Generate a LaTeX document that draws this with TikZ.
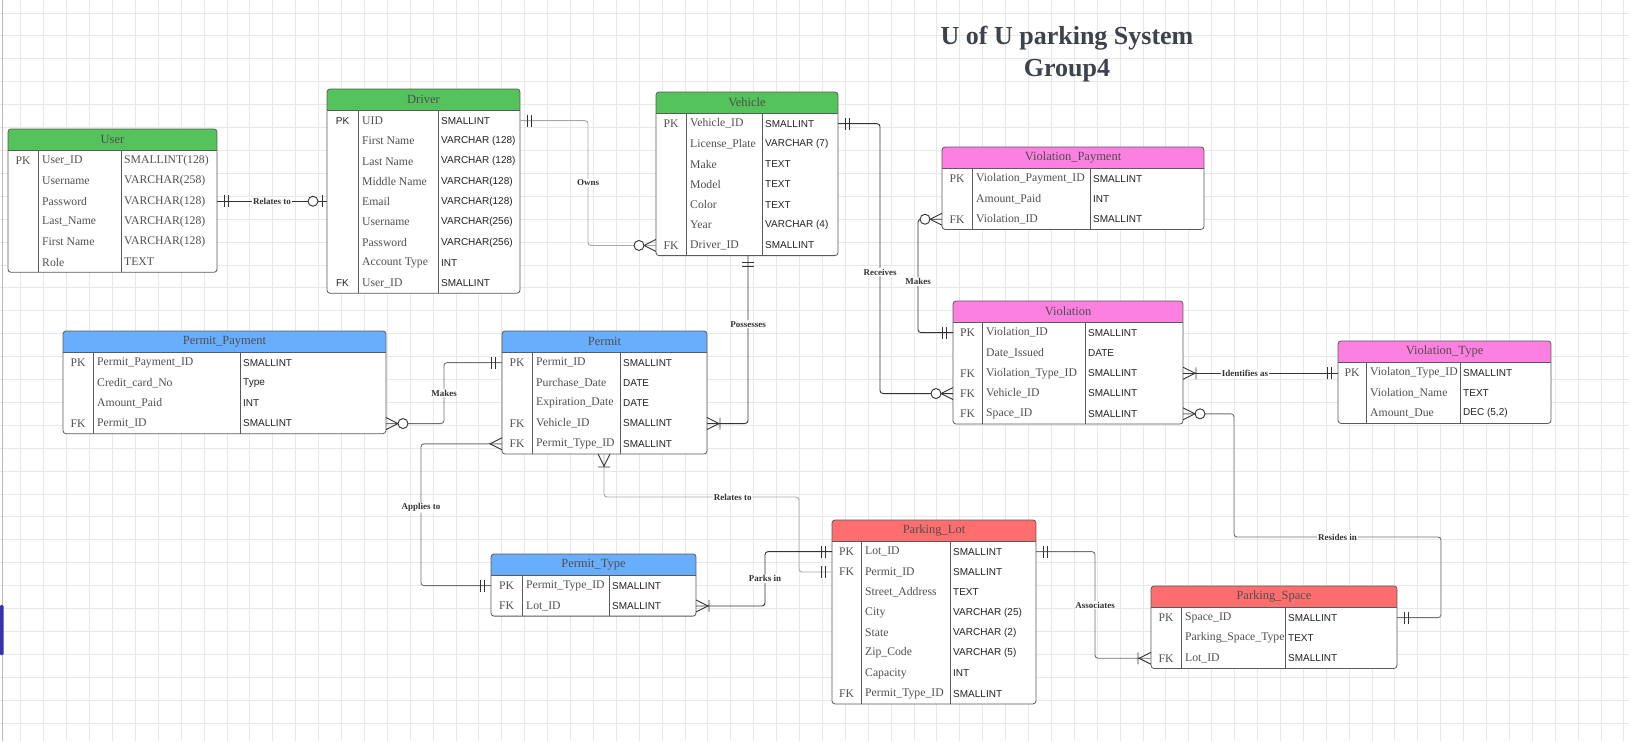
\documentclass[tikz,border=0pt]{standalone}
\usepackage{fontspec}
\setmainfont{Liberation Serif}
\newfontfamily\ersans{Liberation Sans}
\definecolor{grn}{HTML}{55C35B}
\definecolor{blu}{HTML}{69AEFC}
\definecolor{mag}{HTML}{FB80E0}
\definecolor{rd}{HTML}{FF6E6E}
\definecolor{bord}{HTML}{5A5A5A}
\definecolor{gridc}{HTML}{E8E8E8}
\definecolor{txg}{HTML}{505050}
\definecolor{txd}{HTML}{222222}
\definecolor{lnk}{HTML}{333333}
\definecolor{lng}{HTML}{A8A8A8}
\definecolor{lnm}{HTML}{707070}
\definecolor{ttl}{HTML}{3D434D}
\tikzset{
  keyt/.style={font=\fontsize{11.7}{14}\selectfont, text=txg, inner sep=0pt},
  fldt/.style={font=\fontsize{11.7}{14}\selectfont, text=txg, inner sep=0pt, anchor=west},
  typt/.style={font=\ersans\fontsize{10}{12}\selectfont, text=txd, inner sep=0pt, anchor=west},
  hdrt/.style={font=\fontsize{12.5}{14}\selectfont, text=txd!80, inner sep=0pt},
  lbl/.style={font=\bfseries\fontsize{9}{10}\selectfont, text=lnk, fill=white, inner sep=1pt},
  cblk/.style={draw=lnk, line width=0.9pt, rounded corners=3pt},
  cgry/.style={draw=lng, line width=0.9pt, rounded corners=3pt},
  cmid/.style={draw=lnm, line width=0.9pt, rounded corners=3pt},
  mk/.style={draw=lnk, line width=0.9pt},
  pics/erone/.style={code={\draw[mk] (7,-6)--(7,6) (11,-6)--(11,6);}},
  pics/erzone/.style={code={\draw[mk] (5,-6)--(5,6); \draw[mk, fill=white] (14,0) circle (5);}},
  pics/ermany/.style={code={\draw[mk] (0,-6)--(12,0)--(0,6);}},
  pics/eromany/.style={code={\draw[mk] (0,-6)--(12,0)--(0,6) (13,-6)--(13,6);}},
  pics/erzmany/.style={code={\draw[mk] (0,-6)--(12,0)--(0,6); \draw[mk, fill=white] (17,0) circle (5);}},
}
% #1 name, #2 left, #3 right, #4 top, #5 div1, #6 div2, #7 colour, #8 title, #9 rows
\newcommand\ertbl[9]{%
  \pgfmathsetmacro\erhb{#4+21.5}%
  \foreach \ka/\fa/\ta [count=\ri] in {#9}{\xdef\ernrows{\ri}}%
  \pgfmathsetmacro\erbot{\erhb+\ernrows*20.3}%
  \begin{scope}
    \clip[rounded corners=3pt] (#2,#4) rectangle (#3,\erbot);
    \fill[white] (#2,#4) rectangle (#3,\erbot);
    \fill[#7] (#2,#4) rectangle (#3,\erhb);
  \end{scope}
  \draw[bord, line width=0.8pt] (#2,\erhb) -- (#3,\erhb) (#5,\erhb) -- (#5,\erbot) (#6,\erhb) -- (#6,\erbot);
  \draw[bord, line width=0.8pt, rounded corners=3pt] (#2,#4) rectangle (#3,\erbot);
  \node[hdrt] (#1) at ({(#2+#3)/2},{#4+10.75}) {#8};
  \coordinate (#1-S) at (#2,\erbot);
  \foreach \ka/\fa/\ta [count=\ri] in {#9}{%
    \pgfmathsetmacro\ery{\erhb+(\ri-0.5)*20.3}%
    \coordinate (#1-L\ri) at (#2,\ery);
    \coordinate (#1-R\ri) at (#3,\ery);
    \node[keyt] (#1-k\ri) at ({(#2+#5)/2},\ery) {\ka};
    \node[fldt] (#1-f\ri) at ({#5+4},\ery) {\fa};
    \node[typt] (#1-t\ri) at ({#6+3},\ery) {\ta};
  }%
}
\begin{document}
\begin{tikzpicture}[x=1pt,y=-1pt]
\useasboundingbox (0,0) rectangle (1629,741);
\fill[white] (0,0) rectangle (1629,741);
% grid
\foreach \gx in {0,...,70}{\draw[gridc, line width=0.6pt] ({20.7+22.9*\gx},0) -- ++(0,741);}
\foreach \gy in {0,...,32}{\draw[gridc, line width=0.6pt] (0,{12.9+22.9*\gy}) -- ++(1629,0);}
\draw[gridc!80!black, line width=0.6pt] (2.5,0) -- (2.5,741);
\fill[blue!60!black!80!white, rounded corners=1pt] (0,605) rectangle (3.5,655);
% title
\node[font=\bfseries\fontsize{26}{32}\selectfont, text=ttl, align=center] (title) at (1067,54) {U of U parking System\\Group4};

% tables
\begin{scope}[typt/.style={font=\fontsize{11.7}{14}\selectfont, text=txg, inner sep=0pt, anchor=west}]
\ertbl{user}{8}{217}{129}{38}{121}{grn}{User}{PK/User\_ID/SMALLINT(128), {}/Username/VARCHAR(258), {}/Password/VARCHAR(128), {}/Last\_Name/VARCHAR(128), {}/First Name/VARCHAR(128), {}/Role/TEXT}
\end{scope}
\begin{scope}[keyt/.style={font=\ersans\fontsize{10}{12}\selectfont, text=txd, inner sep=0pt}]
\ertbl{driver}{327}{520}{89}{358}{438}{grn}{Driver}{PK/UID/SMALLINT, {}/First Name/VARCHAR (128), {}/Last Name/VARCHAR (128), {}/Middle Name/VARCHAR(128), {}/Email/VARCHAR(128), {}/Username/VARCHAR(256), {}/Password/VARCHAR(256), {}/Account Type/INT, FK/User\_ID/SMALLINT}
\end{scope}
\ertbl{vehicle}{656}{838}{92}{686}{762}{grn}{Vehicle}{PK/Vehicle\_ID/SMALLINT, {}/License\_Plate/VARCHAR (7), {}/Make/TEXT, {}/Model/TEXT, {}/Color/TEXT, {}/Year/VARCHAR (4), FK/Driver\_ID/SMALLINT}
\ertbl{vpay}{942}{1204}{147}{972}{1090}{mag}{Violation\_Payment}{PK/Violation\_Payment\_ID/SMALLINT, {}/Amount\_Paid/INT, FK/Violation\_ID/SMALLINT}
\ertbl{violation}{953}{1183}{301}{982}{1085}{mag}{Violation}{PK/Violation\_ID/SMALLINT, {}/Date\_Issued/DATE, FK/Violation\_Type\_ID/SMALLINT, FK/Vehicle\_ID/SMALLINT, FK/Space\_ID/SMALLINT}
\ertbl{vtype}{1338}{1551}{341}{1366}{1460}{mag}{Violation\_Type}{PK/Violaton\_Type\_ID/SMALLINT, {}/Violation\_Name/TEXT, {}/Amount\_Due/{DEC (5,2)}}
\ertbl{ppay}{63}{386}{331}{93}{240}{blu}{Permit\_Payment}{PK/Permit\_Payment\_ID/SMALLINT, {}/Credit\_card\_No/Type, {}/Amount\_Paid/INT, FK/Permit\_ID/SMALLINT}
\ertbl{permit}{502}{707}{331}{532}{620}{blu}{Permit}{PK/Permit\_ID/SMALLINT, {}/Purchase\_Date/DATE, {}/Expiration\_Date/DATE, FK/Vehicle\_ID/SMALLINT, FK/Permit\_Type\_ID/SMALLINT}
\ertbl{ptype}{491}{696}{554}{522}{609}{blu}{Permit\_Type}{PK/Permit\_Type\_ID/SMALLINT, FK/Lot\_ID/SMALLINT}
\ertbl{lot}{832}{1036}{520}{861}{950}{rd}{Parking\_Lot}{PK/Lot\_ID/SMALLINT, FK/Permit\_ID/SMALLINT, {}/Street\_Address/TEXT, {}/City/VARCHAR (25), {}/State/VARCHAR (2), {}/Zip\_Code/VARCHAR (5), {}/Capacity/INT, FK/Permit\_Type\_ID/SMALLINT}
\ertbl{pspace}{1151}{1397}{586}{1181}{1285}{rd}{Parking\_Space}{PK/Space\_ID/SMALLINT, {}/Parking\_Space\_Type/TEXT, FK/Lot\_ID/SMALLINT}

% bend coordinates
\coordinate (b-owns) at (588,0);
\coordinate (b-poss) at (748,0);
\coordinate (b-rec) at (880,0);
\coordinate (b-mk) at (918,0);
\coordinate (b-res1) at (1234,537);
\coordinate (b-res2) at (1441,537);
\coordinate (b-mk2) at (444,0);
\coordinate (b-app) at (421,0);
\coordinate (b-rel1) at (604,497);
\coordinate (b-rel2) at (799,497);
\coordinate (b-park) at (765,0);
\coordinate (b-assoc) at (1095,0);

% connectors
\draw[cblk] (user-R3) -- node[lbl] (l-rel) {Relates to} (user-R3 -| driver-L5);
\draw[cgry] (driver-R1) -- (driver-R1 -| b-owns) -- node[lbl] (l-owns) {Owns} (vehicle-L7 -| b-owns) -- (vehicle-L7);
\draw[cblk] (vehicle-S -| b-poss) -- node[lbl,pos=0.41] (l-poss) {Possesses} (permit-R4 -| b-poss) -- (permit-R4);
\draw[cblk] (vehicle-R1) -- (vehicle-R1 -| b-rec) -- node[lbl,pos=0.55] (l-rec) {Receives} (violation-L4 -| b-rec) -- (violation-L4);
\draw[cblk] (vpay-L3) -- (vpay-L3 -| b-mk) -- node[lbl,pos=0.55] (l-mk) {Makes} (violation-L1 -| b-mk) -- (violation-L1);
\draw[cblk] (violation-R3) -- node[lbl,pos=0.4] (l-id) {Identifies as} (violation-R3 -| vtype-L1);
\draw[cmid] (violation-R5) -- (violation-R5 -| b-res1) -- (b-res1) -- node[lbl] (l-res) {Resides in} (b-res2) -- (pspace-R1 -| b-res2) -- (pspace-R1);
\draw[cmid] (ppay-R4) -- (ppay-R4 -| b-mk2) -- node[lbl] (l-mk2) {Makes} (permit-L1 -| b-mk2) -- (permit-L1);
\draw[cmid] (permit-L5) -- (permit-L5 -| b-app) -- node[lbl,pos=0.45] (l-app) {Applies to} (ptype-L1 -| b-app) -- (ptype-L1);
\draw[cgry] (permit-S -| b-rel1) -- (b-rel1) -- node[lbl,pos=0.66] (l-rel2) {Relates to} (b-rel2) -- (lot-L2 -| b-rel2) -- (lot-L2);
\draw[cblk] (ptype-R2) -- (ptype-R2 -| b-park) -- node[lbl] (l-park) {Parks in} (lot-L1 -| b-park) -- (lot-L1);
\draw[cmid] (lot-R1) -- (lot-R1 -| b-assoc) -- node[lbl] (l-assoc) {Associates} (pspace-L3 -| b-assoc) -- (pspace-L3);

% end markers
\pic at (user-R3) {erone};
\pic[rotate=180] at (user-R3 -| driver-L5) {erzone};
\pic at (driver-R1) {erone};
\pic[rotate=180] at (vehicle-L7) {erzmany};
\pic[rotate=-90] at (vehicle-S -| b-poss) {erone};
\pic at (permit-R4) {eromany};
\pic at (vehicle-R1) {erone};
\pic[rotate=180] at (violation-L4) {erzmany};
\pic[rotate=180] at (vpay-L3) {erzmany};
\pic[rotate=180] at (violation-L1) {erone};
\pic at (violation-R3) {eromany};
\pic[rotate=180] at (violation-R3 -| vtype-L1) {erone};
\pic at (violation-R5) {erzmany};
\pic at (pspace-R1) {erone};
\pic at (ppay-R4) {erzmany};
\pic[rotate=180] at (permit-L1) {erone};
\pic[rotate=180] at (permit-L5) {ermany};
\pic[rotate=180] at (ptype-L1) {erone};
\pic[rotate=-90] at (permit-S -| b-rel1) {eromany};
\pic[rotate=180] at (lot-L2) {erone};
\pic at (ptype-R2) {eromany};
\pic[rotate=180] at (lot-L1) {erone};
\pic at (lot-R1) {erone};
\pic[rotate=180] at (pspace-L3) {eromany};
\end{tikzpicture}
\end{document}
